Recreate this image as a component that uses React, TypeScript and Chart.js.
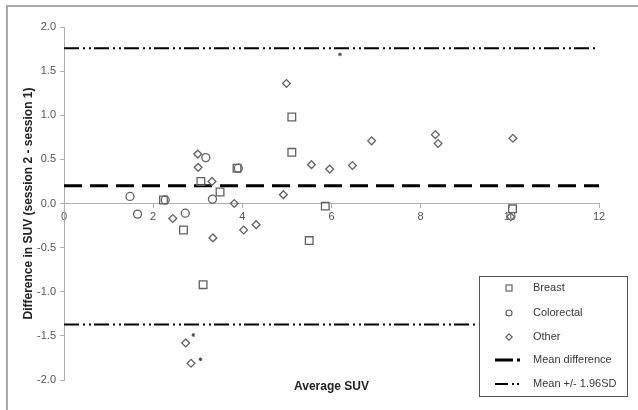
import React, { useEffect, useRef } from 'react';
import { Chart, registerables } from 'chart.js';

Chart.register(...registerables);

// ---- data ----
const breastX = [2.23, 2.68, 3.07, 3.12, 3.50, 3.88, 5.11, 5.11, 5.50, 5.86, 10.06];
const breastY = [0.04, -0.30, 0.25, -0.92, 0.13, 0.40, 0.98, 0.58, -0.42, -0.03, -0.06];

const colorectalX = [1.48, 1.65, 2.27, 2.72, 3.18, 3.33, 3.91];
const colorectalY = [0.08, -0.12, 0.04, -0.11, 0.52, 0.05, 0.40];

const otherX = [2.44, 2.73, 2.85, 3.00, 3.01, 3.32, 3.34, 3.82, 4.03, 4.31, 4.92, 4.99, 5.55, 5.96, 6.47, 6.90, 8.33, 8.39, 10.02, 10.07];
const otherY = [-0.17, -1.58, -1.81, 0.56, 0.41, 0.25, -0.39, 0.00, -0.30, -0.24, 0.10, 1.36, 0.44, 0.39, 0.43, 0.71, 0.78, 0.68, -0.15, 0.74];

const starX = [2.90, 3.06, 6.19];
const starY = [-1.49, -1.765, 1.69];

const meanDiff = 0.2;
const upperLoA = 1.76;
const lowerLoA = -1.37;
const lineX = [0, 12];

const xMin = 0, xMax = 12, xStep = 2;
const yMin = -2, yMax = 2, yStep = 0.5;

const seriesLabels = ['Breast', 'Colorectal', 'Other', 'Mean difference', 'Mean +/- 1.96SD'];
const xTitle = 'Average SUV';
const yTitle = 'Difference in SUV (session 2 - session 1)';

const FONT = "'Liberation Sans', Arial, sans-serif";
const MARKER = '#626262';
const AXIS = '#b0b0b0';
const MEAN_DASH = [18, 8];
const LOA_DASH = [15, 4, 2, 4, 2, 3];

const pts = (xs: number[], ys: number[]) => xs.map((x, i) => ({ x, y: ys[i] }));
const hline = (v: number) => lineX.map((x) => ({ x, y: v }));

const decorPlugin = {
  id: 'decor',
  beforeDraw(chart: any) {
    const ctx = chart.ctx;
    ctx.save();
    ctx.fillStyle = '#ffffff';
    ctx.fillRect(0, 0, chart.width, chart.height);
    ctx.strokeStyle = '#a8a8a8';
    ctx.lineWidth = 2;
    ctx.beginPath();
    ctx.moveTo(7, chart.height);
    ctx.lineTo(7, 6);
    ctx.lineTo(chart.width, 6);
    ctx.stroke();
    ctx.restore();
  },
  afterDraw(chart: any) {
    const ctx = chart.ctx;
    const ca = chart.chartArea;
    ctx.save();
    // x axis title
    ctx.font = `bold 12px ${FONT}`;
    ctx.fillStyle = '#222';
    ctx.textAlign = 'center';
    ctx.textBaseline = 'middle';
    ctx.fillText(xTitle, (ca.left + ca.right) / 2, ca.bottom + 7);

    // legend
    const L = 479, T = 276, R = 628, B = 397;
    ctx.fillStyle = '#ffffff';
    ctx.fillRect(L, T, R - L, B - T);
    ctx.strokeStyle = '#555';
    ctx.lineWidth = 1;
    ctx.strokeRect(L + 0.5, T + 0.5, R - L - 1, B - T - 1);
    const rows = [288, 313, 337, 360, 384];
    const mx = 509;
    ctx.strokeStyle = MARKER;
    ctx.lineWidth = 1.2;
    // square
    ctx.strokeRect(mx - 3, rows[0] - 3, 6, 6);
    // circle
    ctx.beginPath();
    ctx.arc(mx, rows[1], 3, 0, Math.PI * 2);
    ctx.stroke();
    // diamond
    ctx.beginPath();
    ctx.moveTo(mx, rows[2] - 3.2);
    ctx.lineTo(mx + 3.2, rows[2]);
    ctx.lineTo(mx, rows[2] + 3.2);
    ctx.lineTo(mx - 3.2, rows[2]);
    ctx.closePath();
    ctx.stroke();
    // mean line sample
    ctx.strokeStyle = '#000';
    ctx.lineWidth = 3;
    ctx.setLineDash([]);
    ctx.beginPath();
    ctx.moveTo(495, rows[3]);
    ctx.lineTo(513, rows[3]);
    ctx.moveTo(517, rows[3]);
    ctx.lineTo(520, rows[3]);
    ctx.stroke();
    // LoA sample
    ctx.lineWidth = 2;
    ctx.beginPath();
    ctx.moveTo(495, rows[4]);
    ctx.lineTo(508, rows[4]);
    ctx.moveTo(512, rows[4]);
    ctx.lineTo(514, rows[4]);
    ctx.moveTo(517, rows[4]);
    ctx.lineTo(519, rows[4]);
    ctx.stroke();
    // texts
    ctx.font = `11px ${FONT}`;
    ctx.fillStyle = '#3a3a3a';
    ctx.textAlign = 'left';
    ctx.textBaseline = 'middle';
    seriesLabels.forEach((lab, i) => ctx.fillText(lab, 533, rows[i]));
    ctx.restore();
  },
};

export default function App() {
  const ref = useRef<HTMLCanvasElement | null>(null);

  useEffect(() => {
    if (!ref.current) return;
    const chart = new Chart(ref.current, {
      type: 'scatter',
      data: {
        datasets: [
          {
            label: seriesLabels[0],
            data: pts(breastX, breastY),
            pointStyle: 'rect',
            pointRadius: 5.4,
            pointBorderColor: MARKER,
            pointBackgroundColor: 'rgba(0,0,0,0)',
            pointBorderWidth: 1.3,
          },
          {
            label: seriesLabels[1],
            data: pts(colorectalX, colorectalY),
            pointStyle: 'circle',
            pointRadius: 4,
            pointBorderColor: MARKER,
            pointBackgroundColor: 'rgba(0,0,0,0)',
            pointBorderWidth: 1.3,
          },
          {
            label: seriesLabels[2],
            data: pts(otherX, otherY),
            pointStyle: 'rectRot',
            pointRadius: 3.9,
            pointBorderColor: MARKER,
            pointBackgroundColor: 'rgba(0,0,0,0)',
            pointBorderWidth: 1.3,
          },
          {
            label: '*',
            data: pts(starX, starY),
            pointStyle: 'star',
            pointRadius: 1.8,
            pointBorderColor: '#444',
            pointBorderWidth: 1,
          },
          {
            label: seriesLabels[3],
            data: hline(meanDiff),
            showLine: true,
            pointRadius: 0,
            borderColor: '#000',
            borderWidth: 3,
            borderDash: MEAN_DASH,
          },
          {
            label: seriesLabels[4],
            data: hline(upperLoA),
            showLine: true,
            pointRadius: 0,
            borderColor: '#000',
            borderWidth: 2,
            borderDash: LOA_DASH,
          },
          {
            label: seriesLabels[4],
            data: hline(lowerLoA),
            showLine: true,
            pointRadius: 0,
            borderColor: '#000',
            borderWidth: 2,
            borderDash: LOA_DASH,
          },
        ],
      },
      options: {
        animation: false,
        responsive: false,
        layout: { padding: { left: 21, top: 27, right: 39, bottom: 30 } },
        plugins: {
          legend: { display: false },
          tooltip: { enabled: false },
          title: { display: false },
        },
        scales: {
          x: {
            type: 'linear',
            min: xMin,
            max: xMax,
            position: { y: 0 } as any,
            ticks: {
              stepSize: xStep,
              color: '#555',
              font: { family: FONT, size: 11 },
              padding: 3,
              maxRotation: 0,
            },
            grid: { drawOnChartArea: false, drawTicks: true, tickLength: 4, color: AXIS },
            border: { color: AXIS, width: 1 },
          },
          y: {
            type: 'linear',
            min: yMin,
            max: yMax,
            afterFit: (s: any) => {
              s.width = 43;
            },
            ticks: {
              stepSize: yStep,
              color: '#555',
              font: { family: FONT, size: 11 },
              padding: 4,
              callback: (v: any) => Number(v).toFixed(1),
            },
            grid: { drawOnChartArea: false, drawTicks: true, tickLength: 4, color: AXIS },
            border: { color: AXIS, width: 1 },
            title: {
              display: true,
              text: yTitle,
              color: '#222',
              font: { family: FONT, size: 12, weight: 'bold' },
              padding: 0,
            },
          },
        },
      },
      plugins: [decorPlugin],
    });
    return () => chart.destroy();
  }, []);

  return (
    <div style={{ position: 'absolute', left: 0, top: 0, width: 638, height: 410 }}>
      <canvas ref={ref} width={638} height={410} />
    </div>
  );
}
